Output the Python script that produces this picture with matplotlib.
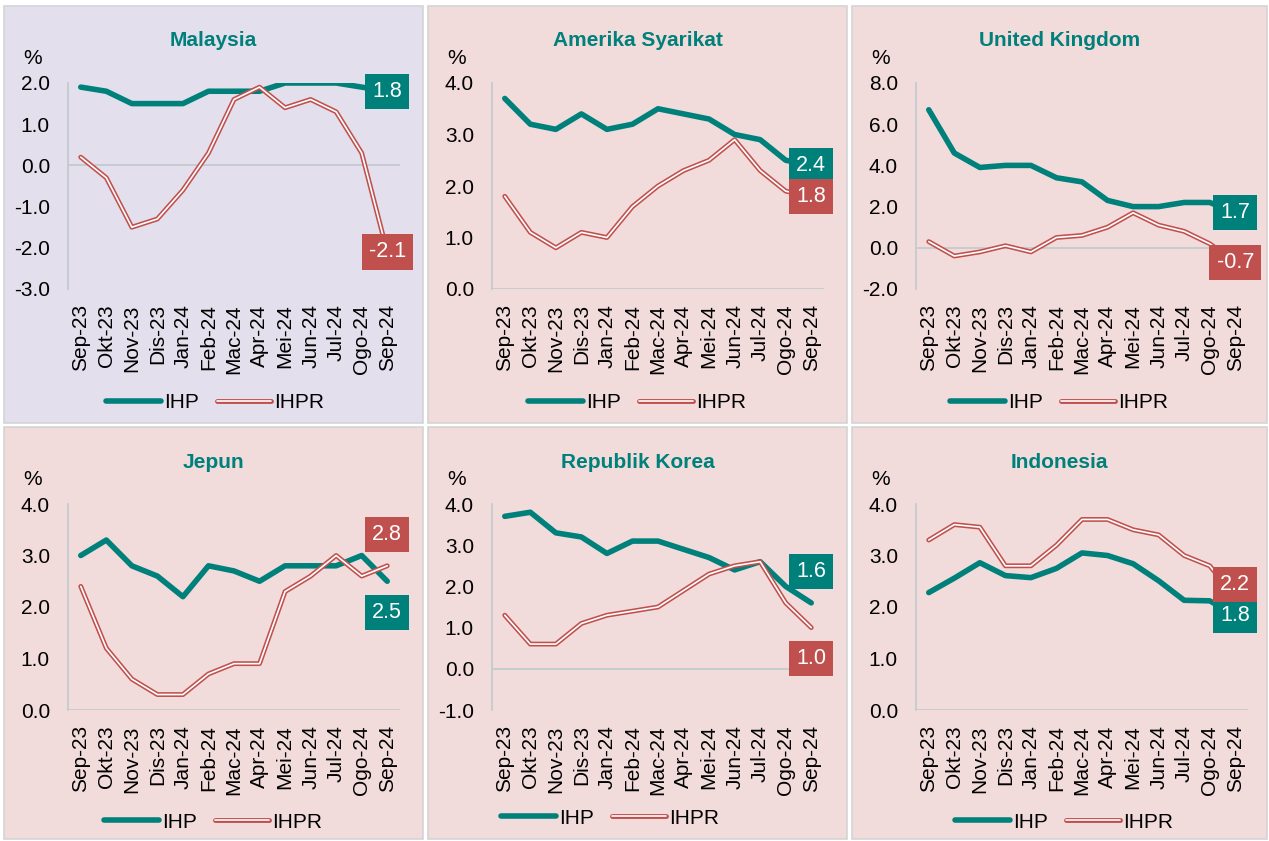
import matplotlib
matplotlib.use('Agg')
import matplotlib.pyplot as plt
import matplotlib.patheffects as pe
from matplotlib.patches import Rectangle
from matplotlib.lines import Line2D

plt.rcParams['font.family'] = ['Liberation Sans', 'DejaVu Sans']
plt.rcParams['axes.unicode_minus'] = False

months = ['Sep-23', 'Okt-23', 'Nov-23', 'Dis-23', 'Jan-24', 'Feb-24', 'Mac-24',
          'Apr-24', 'Mei-24', 'Jun-24', 'Jul-24', 'Ogo-24', 'Sep-24']

countries = ['Malaysia', 'Amerika Syarikat', 'United Kingdom',
             'Jepun', 'Republik Korea', 'Indonesia']

ihp_my = [1.9, 1.8, 1.5, 1.5, 1.5, 1.8, 1.8, 1.8, 2.0, 2.0, 2.0, 1.9, 1.8]
ihpr_my = [0.2, -0.3, -1.5, -1.3, -0.6, 0.3, 1.6, 1.9, 1.4, 1.6, 1.3, 0.3, -2.1]
ihp_us = [3.7, 3.2, 3.1, 3.4, 3.1, 3.2, 3.5, 3.4, 3.3, 3.0, 2.9, 2.5, 2.4]
ihpr_us = [1.8, 1.1, 0.8, 1.1, 1.0, 1.6, 2.0, 2.3, 2.5, 2.9, 2.3, 1.9, 1.8]
ihp_uk = [6.7, 4.6, 3.9, 4.0, 4.0, 3.4, 3.2, 2.3, 2.0, 2.0, 2.2, 2.2, 1.7]
ihpr_uk = [0.3, -0.4, -0.2, 0.1, -0.2, 0.5, 0.6, 1.0, 1.7, 1.1, 0.8, 0.2, -0.7]
ihp_jp = [3.0, 3.3, 2.8, 2.6, 2.2, 2.8, 2.7, 2.5, 2.8, 2.8, 2.8, 3.0, 2.5]
ihpr_jp = [2.4, 1.2, 0.6, 0.3, 0.3, 0.7, 0.9, 0.9, 2.3, 2.6, 3.0, 2.6, 2.8]
ihp_kr = [3.7, 3.8, 3.3, 3.2, 2.8, 3.1, 3.1, 2.9, 2.7, 2.4, 2.6, 2.0, 1.6]
ihpr_kr = [1.3, 0.6, 0.6, 1.1, 1.3, 1.4, 1.5, 1.9, 2.3, 2.5, 2.6, 1.6, 1.0]
ihp_id = [2.28, 2.56, 2.86, 2.61, 2.57, 2.75, 3.05, 3.00, 2.84, 2.51, 2.13, 2.12, 1.84]
ihpr_id = [3.3, 3.6, 3.55, 2.8, 2.8, 3.2, 3.7, 3.7, 3.5, 3.4, 3.0, 2.8, 2.2]

ihp_all = [ihp_my, ihp_us, ihp_uk, ihp_jp, ihp_kr, ihp_id]
ihpr_all = [ihpr_my, ihpr_us, ihpr_uk, ihpr_jp, ihpr_kr, ihpr_id]
y_ticks = [[-3, -2, -1, 0, 1, 2], [0, 1, 2, 3, 4], [-2, 0, 2, 4, 6, 8],
           [0, 1, 2, 3, 4], [-1, 0, 1, 2, 3, 4], [0, 1, 2, 3, 4]]

TEAL = '#00807A'
RED = '#C0504D'
W, H = 1269, 841

fig = plt.figure(figsize=(W / 100, H / 100), dpi=100)

col_x0 = [4, 428, 852]
col_x1 = [423, 847, 1267]
row_y0 = [6, 427]
row_y1 = [423, 839]
bg = ['#E4DFEC', '#F2DCDB', '#F2DCDB', '#F2DCDB', '#F2DCDB', '#F2DCDB']
# label offsets (pixels) for IHP / IHPR end boxes
off_ihp = [0, 0, 0, -31, 31, 0]
off_ihpr = [0, 0, 0, 31, -31, 12]
legend_dx = [2, 0, 0, 0, -27, 5]
legend_y = [403, 403, 403, 822, 818, 822]

ihpr_fx = [pe.Stroke(linewidth=3.5, foreground=RED), pe.Normal()]

for i, name in enumerate(countries):
    r, c = divmod(i, 3)
    px0, px1, py0, py1 = col_x0[c], col_x1[c], row_y0[r], row_y1[r]
    fig.add_artist(Rectangle((px0 / W, 1 - py1 / H), (px1 - px0) / W, (py1 - py0) / H,
                             transform=fig.transFigure, facecolor=bg[i],
                             edgecolor='#D4D4D4', lw=1.2, zorder=0))

    ax_l, ax_t = px0 + 64, py0 + 77
    ax = fig.add_axes([ax_l / W, 1 - (ax_t + 206) / H, 332 / W, 206 / H])
    ax.patch.set_alpha(0)
    x = range(len(months))

    ax.plot(x, ihp_all[i], color=TEAL, lw=4.0, solid_capstyle='round',
            solid_joinstyle='round', zorder=3)
    ax.plot(x, ihpr_all[i], color='white', lw=1.2, solid_capstyle='round',
            solid_joinstyle='round', path_effects=ihpr_fx, zorder=4)

    ax.set_xlim(-0.5, 12.5)
    ax.set_ylim(y_ticks[i][0], y_ticks[i][-1])
    ax.set_yticks(y_ticks[i])
    ax.set_yticklabels(['%.1f' % v for v in y_ticks[i]])
    ax.set_xticks(list(x))
    ax.set_xticklabels(months, rotation=90)
    ax.tick_params(axis='both', length=0, labelsize=15, colors='black')
    ax.tick_params(axis='y', pad=13)
    ax.tick_params(axis='x', pad=11)
    for s in ['top', 'right', 'bottom']:
        ax.spines[s].set_visible(False)
    ax.spines['left'].set_color('#BFC9CC')
    ax.spines['left'].set_linewidth(1.2)
    ax.axhline(0, color='#BFC9CC', lw=1.2, zorder=1)

    # end-value boxes
    ax.annotate('%.1f' % ihp_all[i][-1], (12, ihp_all[i][-1]),
                xytext=(0, off_ihp[i]), textcoords='offset pixels',
                ha='center', va='center', color='white', fontsize=15.5, zorder=6,
                bbox=dict(boxstyle='square,pad=0.33', fc=TEAL, ec='none'))
    ax.annotate('%.1f' % ihpr_all[i][-1], (12, ihpr_all[i][-1]),
                xytext=(0, off_ihpr[i]), textcoords='offset pixels',
                ha='center', va='center', color='white', fontsize=15.5, zorder=6,
                bbox=dict(boxstyle='square,pad=0.33', fc=RED, ec='none'))

    cx = (px0 + px1) / 2
    fig.text(cx / W, 1 - (py0 + 35) / H, name, ha='center', va='center',
             fontsize=15, fontweight='bold', color=TEAL)
    fig.text((px0 + 29) / W, 1 - (py0 + 52) / H, '%', ha='center', va='center',
             fontsize=15, color='black')

    handles = [Line2D([], [], color=TEAL, lw=4.0, solid_capstyle='round'),
               Line2D([], [], color='white', lw=1.2, solid_capstyle='round',
                      path_effects=ihpr_fx)]
    ax.legend(handles, ['IHP', 'IHPR'], loc='center', ncol=2, frameon=False,
              bbox_to_anchor=((cx + legend_dx[i]) / W, 1 - legend_y[i] / H),
              bbox_transform=fig.transFigure, fontsize=15, handlelength=2.6,
              handletextpad=0.15, columnspacing=0.9)

fig.savefig('out.png', dpi=100, facecolor='white')
